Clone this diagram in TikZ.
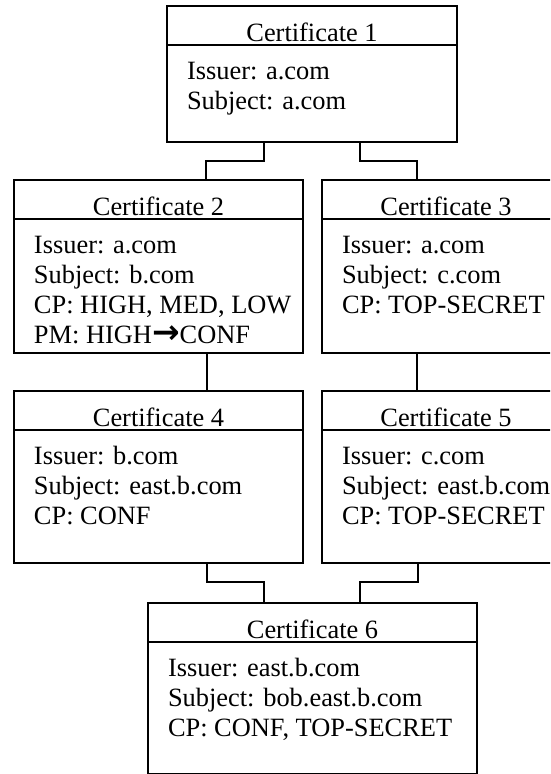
\documentclass[tikz,border=0pt]{standalone}
\usepackage{fontspec}
\setmainfont{Liberation Serif}
\newfontfamily\arrowfont{DejaVu Sans}
\usetikzlibrary{calc}
\tikzset{
  certbox/.style={draw,line width=2.8pt,rectangle,inner sep=0pt,outer sep=0pt,anchor=north west},
  hdr/.style={line width=2pt},
  link/.style={line width=2pt},
  txt/.style={inner sep=0pt,outer sep=0pt,font=\fontsize{26.4}{30}\selectfont},
}
\newcommand\bigarrow{{\arrowfont\bfseries\fontsize{33}{30}\selectfont\raisebox{-0.5pt}{→}}}
\newcommand\certnode[7]{%
  \node[certbox,minimum width=#4pt,minimum height=#5pt] (#1) at (#2,#3) {};
  \draw[hdr] ($(#1.north west)+(0,39)$) -- ($(#1.north east)+(0,39)$);
  \node[txt,anchor=base] (#1t) at ($(#1.north)+(0,35)$) {#6};
  \foreach \l [count=\i] in {#7} {
    \node[txt,anchor=base west] (#1l\i) at ($(#1.north west)+(20,43+30*\i)$) {\l};
  }
}
\begin{document}
\begin{tikzpicture}[x=1pt,y=-1pt]
\useasboundingbox (0,0) rectangle (550,774);
\clip (0,0) rectangle (550,774);
\certnode{c1}{167}{6}{290}{136}{Certificate 1}{{Issuer: a.com},{Subject: a.com}}
\certnode{c2}{14}{180}{289}{173}{Certificate 2}{{Issuer: a.com},{Subject: b.com},{CP: HIGH, MED, LOW},{PM: HIGH\bigarrow CONF}}
\certnode{c3}{322}{180}{248}{173}{Certificate 3}{{Issuer: a.com},{Subject: c.com},{CP: TOP-SECRET}}
\certnode{c4}{14}{391}{289}{172}{Certificate 4}{{Issuer: b.com},{Subject: east.b.com},{CP: CONF}}
\certnode{c5}{322}{391}{248}{172}{Certificate 5}{{Issuer: c.com},{Subject: east.b.com},{CP: TOP-SECRET}}
\certnode{c6}{148}{603}{329}{171}{Certificate 6}{{Issuer: east.b.com},{Subject: bob.east.b.com},{CP: CONF, TOP-SECRET}}
\draw[link] ($(c1.south west)+(97,0)$) -- ++(0,19) -| ($(c2.north west)+(192,0)$);
\draw[link] ($(c1.south west)+(193,0)$) -- ++(0,19) -| ($(c3.north west)+(95,0)$);
\draw[link] ($(c2.south west)+(193,0)$) -- ($(c4.north west)+(193,0)$);
\draw[link] ($(c3.south west)+(95,0)$) -- ($(c5.north west)+(95,0)$);
\draw[link] ($(c4.south west)+(193,0)$) -- ++(0,19) -| ($(c6.north west)+(116,0)$);
\draw[link] ($(c5.south west)+(96,0)$) -- ++(0,19) -| ($(c6.north west)+(212,0)$);
\end{tikzpicture}
\end{document}
